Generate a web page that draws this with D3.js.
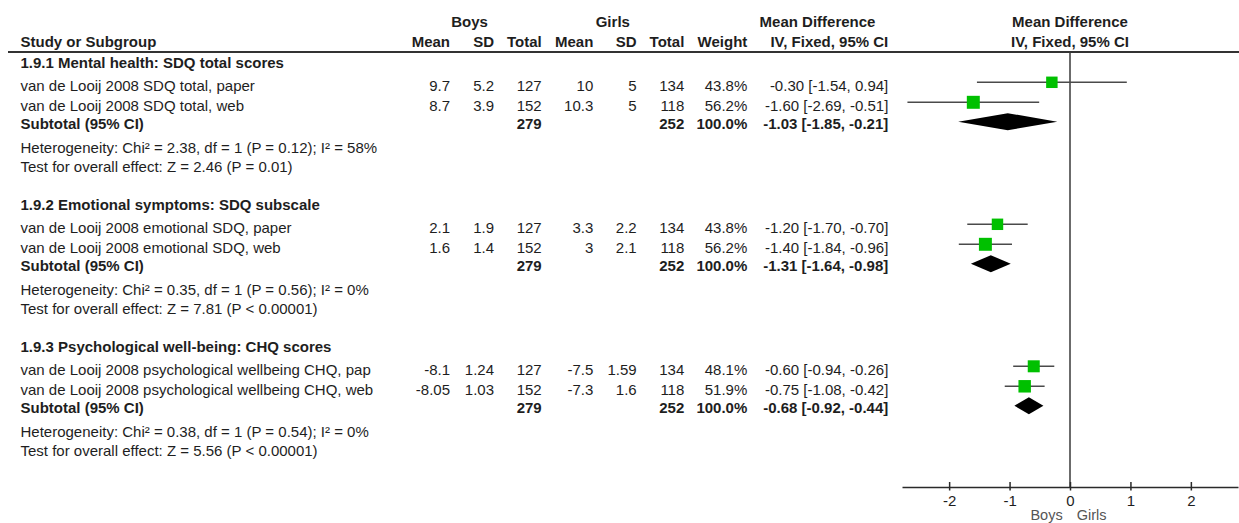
<!DOCTYPE html>
<html>
<head>
<meta charset="utf-8">
<script src="https://cdn.jsdelivr.net/npm/d3@7"></script>
<style>
  html, body { margin: 0; padding: 0; background: #fff; }
  svg { display: block; font-family: "Liberation Sans", Arial, sans-serif; }
  text { fill: #1e1e1e; }
</style>
</head>
<body>
<svg id="chart" width="1239" height="523"></svg>
<script>
// Subgroups and their studies (boys vs girls, mean difference, IV fixed effect)
const subgroups = [
  "1.9.1 Mental health: SDQ total scores",
  "1.9.2 Emotional symptoms: SDQ subscale",
  "1.9.3 Psychological well-being: CHQ scores"
];
const studyNames = [
  "van de Looij 2008 SDQ total, paper",
  "van de Looij 2008 SDQ total, web",
  "van de Looij 2008 emotional SDQ, paper",
  "van de Looij 2008 emotional SDQ, web",
  "van de Looij 2008 psychological wellbeing CHQ, pap",
  "van de Looij 2008 psychological wellbeing CHQ, web"
];
const studyGroup = [0, 0, 1, 1, 2, 2];
const boysMean  = [9.7, 8.7, 2.1, 1.6, -8.1, -8.05];
const boysSD    = [5.2, 3.9, 1.9, 1.4, 1.24, 1.03];
const boysN     = [127, 152, 127, 152, 127, 152];
const girlsMean = [10, 10.3, 3.3, 3, -7.5, -7.3];
const girlsSD   = [5, 5, 2.2, 2.1, 1.59, 1.6];
const girlsN    = [134, 118, 134, 118, 134, 118];
const weight    = [43.8, 56.2, 43.8, 56.2, 48.1, 51.9];
const md        = [-0.30, -1.60, -1.20, -1.40, -0.60, -0.75];
const mdLow     = [-1.54, -2.69, -1.70, -1.84, -0.94, -1.08];
const mdHigh    = [0.94, -0.51, -0.70, -0.96, -0.26, -0.42];

// Subtotals per subgroup
const subBoysN  = [279, 279, 279];
const subGirlsN = [252, 252, 252];
const subWeight = [100.0, 100.0, 100.0];
const subMD     = [-1.03, -1.31, -0.68];
const subLow    = [-1.85, -1.64, -0.92];
const subHigh   = [-0.21, -0.98, -0.44];
const heterogeneity = [
  "Heterogeneity: Chi² = 2.38, df = 1 (P = 0.12); I² = 58%",
  "Heterogeneity: Chi² = 0.35, df = 1 (P = 0.56); I² = 0%",
  "Heterogeneity: Chi² = 0.38, df = 1 (P = 0.54); I² = 0%"
];
const overallEffect = [
  "Test for overall effect: Z = 2.46 (P = 0.01)",
  "Test for overall effect: Z = 7.81 (P < 0.00001)",
  "Test for overall effect: Z = 5.56 (P < 0.00001)"
];

// Axis
const axisTicks = [-2, -1, 0, 1, 2];
const axisDomain = [-2.78, 2.78];
const favourLabels = ["Boys", "Girls"];

// ---------- layout ----------
const svg = d3.select("#chart");
const FS = 15;
const leftX = 20.5;
const colRight = {
  bMean: 450, bSD: 494, bN: 541.7,
  gMean: 593.3, gSD: 636.7, gN: 684.3,
  weight: 747.3, ci: 888.3
};
const groupTop = [68.3, 210.3, 352.3];          // heading baselines
const offs = { rows: [22.4, 42.4], sub: 61, het: 84.4, test: 103.4,
               mark: [14, 34], diamond: 53.4 };

const x = d3.scaleLinear().domain(axisDomain).range([902, 1238]);
const sizeScale = d3.scaleSqrt().domain([0, 100]).range([0, 17.3]);
const fmt2 = d3.format(".2f");
const fmtCI = (m, l, h) => `${fmt2(m)} [${fmt2(l)}, ${fmt2(h)}]`.replace(/−/g, "-");
const fmtW = d3.format(".1f");

function txt(xp, yp, s, opts = {}) {
  return svg.append("text")
    .attr("x", xp).attr("y", yp)
    .attr("font-size", opts.size || FS)
    .attr("font-weight", opts.bold ? "bold" : "normal")
    .attr("text-anchor", opts.anchor || "start")
    .style("fill", opts.color || null)
    .text(s);
}

// ---------- header ----------
txt(469.5, 26.7, "Boys", { bold: true, anchor: "middle" });
txt(612.8, 26.7, "Girls", { bold: true, anchor: "middle" });
txt(817.5, 26.7, "Mean Difference", { bold: true, anchor: "middle" });
txt(x(0), 26.7, "Mean Difference", { bold: true, anchor: "middle" });

const hY = 47.3;
txt(leftX, hY, "Study or Subgroup", { bold: true });
[["bMean", "Mean"], ["bSD", "SD"], ["bN", "Total"], ["gMean", "Mean"], ["gSD", "SD"],
 ["gN", "Total"], ["weight", "Weight"], ["ci", "IV, Fixed, 95% CI"]]
  .forEach(([k, s]) => txt(colRight[k], hY, s, { bold: true, anchor: "end" }));
txt(x(0), hY, "IV, Fixed, 95% CI", { bold: true, anchor: "middle" });

svg.append("line")
  .attr("x1", 8).attr("x2", 1239).attr("y1", 52).attr("y2", 52)
  .attr("stroke", "#333").attr("stroke-width", 2);

// zero line
const axisY = 487;
svg.append("line")
  .attr("x1", x(0)).attr("x2", x(0)).attr("y1", 52).attr("y2", axisY)
  .attr("stroke", "#3a3a3a").attr("stroke-width", 1.5);

// ---------- subgroups ----------
subgroups.forEach((name, g) => {
  const top = groupTop[g];
  txt(leftX, top, name, { bold: true });

  const rows = d3.range(studyNames.length).filter(i => studyGroup[i] === g);
  rows.forEach((i, k) => {
    const ty = top + offs.rows[k];
    const my = top + offs.mark[k];
    txt(leftX, ty, studyNames[i]);
    txt(colRight.bMean, ty, String(boysMean[i]), { anchor: "end" });
    txt(colRight.bSD, ty, String(boysSD[i]), { anchor: "end" });
    txt(colRight.bN, ty, String(boysN[i]), { anchor: "end" });
    txt(colRight.gMean, ty, String(girlsMean[i]), { anchor: "end" });
    txt(colRight.gSD, ty, String(girlsSD[i]), { anchor: "end" });
    txt(colRight.gN, ty, String(girlsN[i]), { anchor: "end" });
    txt(colRight.weight, ty, fmtW(weight[i]) + "%", { anchor: "end" });
    txt(colRight.ci, ty, fmtCI(md[i], mdLow[i], mdHigh[i]), { anchor: "end" });

    // confidence interval and weighted square
    svg.append("line")
      .attr("x1", x(mdLow[i])).attr("x2", x(mdHigh[i]))
      .attr("y1", my).attr("y2", my)
      .attr("stroke", "#4a4a4a").attr("stroke-width", 1.5);
    const s = sizeScale(weight[i]);
    svg.append("rect")
      .attr("x", x(md[i]) - s / 2).attr("y", my - s / 2)
      .attr("width", s).attr("height", s)
      .attr("fill", "#00c000");
  });

  const sy = top + offs.sub;
  txt(leftX, sy, "Subtotal (95% CI)", { bold: true });
  txt(colRight.bN, sy, String(subBoysN[g]), { bold: true, anchor: "end" });
  txt(colRight.gN, sy, String(subGirlsN[g]), { bold: true, anchor: "end" });
  txt(colRight.weight, sy, fmtW(subWeight[g]) + "%", { bold: true, anchor: "end" });
  txt(colRight.ci, sy, fmtCI(subMD[g], subLow[g], subHigh[g]), { bold: true, anchor: "end" });

  const dy = top + offs.diamond, hh = 8.5;
  svg.append("path")
    .attr("d", d3.line()([
      [x(subLow[g]), dy], [x(subMD[g]), dy - hh],
      [x(subHigh[g]), dy], [x(subMD[g]), dy + hh]
    ]) + "Z")
    .attr("fill", "#000");

  txt(leftX, top + offs.het, heterogeneity[g]);
  txt(leftX, top + offs.test, overallEffect[g]);
});

// ---------- axis ----------
const axis = d3.axisBottom(x).tickValues(axisTicks).tickSizeOuter(0)
  .tickFormat(d => d3.format("d")(d).replace("−", "-"));
const ag = svg.append("g").attr("transform", `translate(0,${axisY})`).call(axis);
ag.select(".domain").attr("stroke", "#2a2a2a").attr("stroke-width", 1.5);
ag.selectAll(".tick line").attr("y1", -5).attr("y2", 3.5)
  .attr("stroke", "#2a2a2a").attr("stroke-width", 1.5);
ag.selectAll(".tick text").attr("y", 19).attr("dy", null)
  .attr("font-size", FS).attr("font-family", "Liberation Sans, Arial, sans-serif")
  .style("fill", "#1e1e1e");

// direction labels under the axis
txt(1062.7, 519.5, favourLabels[0], { anchor: "end", color: "#555", size: 14.5 });
txt(1076.7, 519.5, favourLabels[1], { anchor: "start", color: "#555", size: 14.5 });
</script>
</body>
</html>
